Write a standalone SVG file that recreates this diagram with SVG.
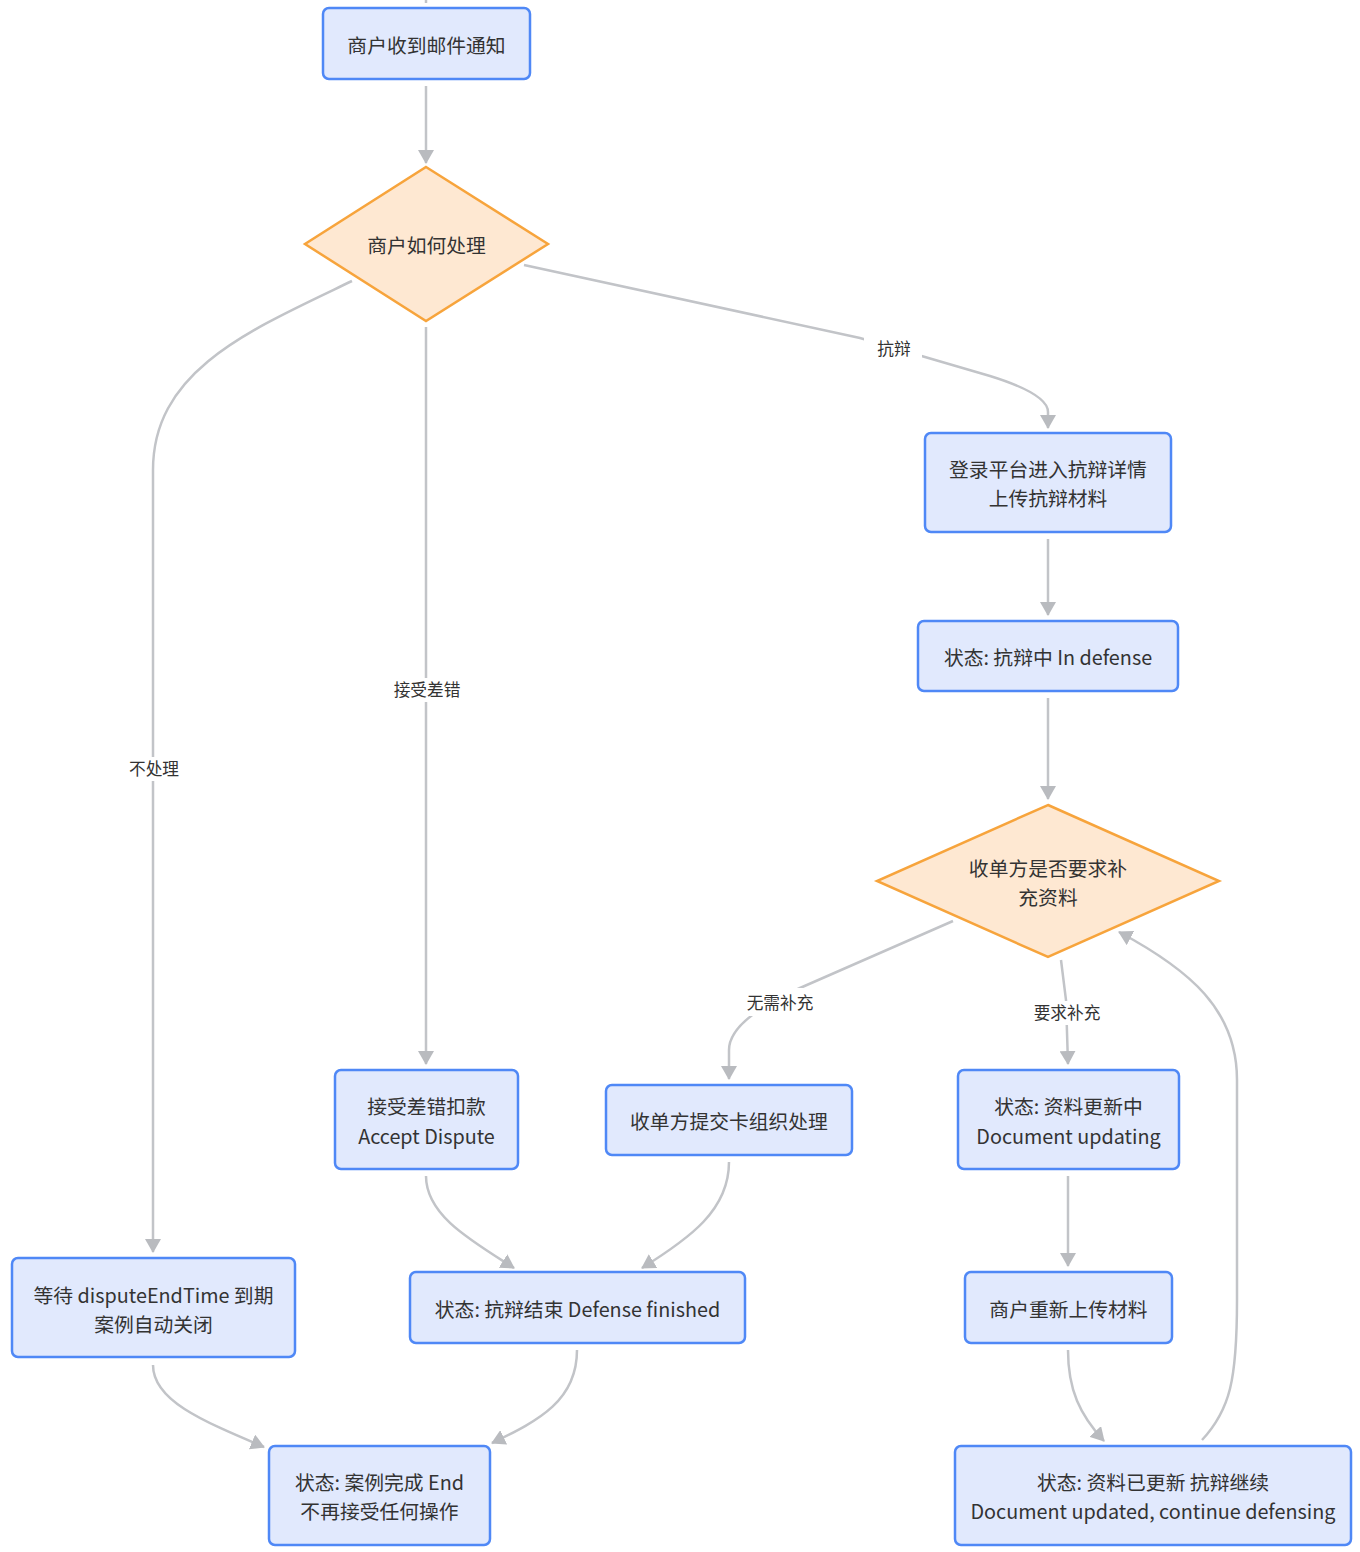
<svg xmlns="http://www.w3.org/2000/svg" width="1360" height="1552" viewBox="0 0 1360 1552">
<style>
.box{fill:#e1e9fd;stroke:#4f88f6;stroke-width:2.5}
.dia{fill:#fee8d2;stroke:#f7a43c;stroke-width:2.5}
.t{font-family:"Noto Sans CJK SC","Noto Sans",sans-serif;font-size:19.8px;fill:#333;text-anchor:middle;dominant-baseline:central}
.lb{font-family:"Noto Sans CJK SC","Noto Sans",sans-serif;font-size:16.7px;fill:#333;text-anchor:middle;dominant-baseline:central}
.e{fill:none;stroke:#c2c4c8;stroke-width:2.5}
.lbg{fill:#ffffff}
</style>
<defs>
<marker id="ah" viewBox="0 0 14 16" refX="13" refY="8" markerWidth="14" markerHeight="16" markerUnits="userSpaceOnUse" orient="auto">
<path d="M0,0 L14,8 L0,16 z" fill="#b9bbbf"/>
</marker>
</defs>
<rect width="1360" height="1552" fill="#ffffff"/>
<g id="edges">
<path class="e" d="M426,0 L426,3"/>
<path class="e" d="M426,86 L426,163" marker-end="url(#ah)"/>
<path class="e" d="M352,281 C250,330 153,370 153,470 L153,1252" marker-end="url(#ah)"/>
<path class="e" d="M426,327 L426,1064" marker-end="url(#ah)"/>
<path class="e" d="M524,265 L860,338 L990,376 Q1048,394 1048,412 L1048,428" marker-end="url(#ah)"/>
<path class="e" d="M1048,539 L1048,615" marker-end="url(#ah)"/>
<path class="e" d="M1048,698 L1048,799" marker-end="url(#ah)"/>
<path class="e" d="M953,921 L800,988 Q729,1020 729,1050 L729,1079" marker-end="url(#ah)"/>
<path class="e" d="M1061,960 L1066,1000 L1068,1064" marker-end="url(#ah)"/>
<path class="e" d="M426,1176 C426,1215 470,1240 514,1268" marker-end="url(#ah)"/>
<path class="e" d="M729,1162 C729,1210 690,1238 642,1268" marker-end="url(#ah)"/>
<path class="e" d="M153,1365 C153,1400 200,1420 264,1447" marker-end="url(#ah)"/>
<path class="e" d="M577,1350 C577,1400 540,1420 492,1443" marker-end="url(#ah)"/>
<path class="e" d="M1068,1176 L1068,1266" marker-end="url(#ah)"/>
<path class="e" d="M1068,1350 C1068,1390 1080,1415 1104,1441" marker-end="url(#ah)"/>
<path class="e" d="M1202,1440 C1230,1410 1237,1380 1237,1300 L1237,1080 C1237,1010 1190,970 1119,932" marker-end="url(#ah)"/>
<rect class="lbg" x="124" y="757" width="60" height="24"/>
<text class="lb" x="154" y="768">不处理</text>
<rect class="lbg" x="389" y="678" width="76" height="24"/>
<text class="lb" x="427" y="689">接受差错</text>
<rect class="lbg" x="864" y="337" width="58" height="24"/>
<text class="lb" x="894" y="348">抗辩</text>
<rect class="lbg" x="740" y="988" width="80" height="28"/>
<text class="lb" x="780" y="1002">无需补充</text>
<rect class="lbg" x="1029" y="1001" width="76" height="24"/>
<text class="lb" x="1067" y="1012">要求补充</text>
</g>
<g id="n1"><rect class="box" x="323" y="8" width="207" height="71" rx="6"/><text class="t" x="426.5" y="44">商户收到邮件通知</text></g>
<g id="d1"><polygon class="dia" points="426,167 548,244 426,321 305,244"/><text class="t" x="426.5" y="244">商户如何处理</text></g>
<g id="n3"><rect class="box" x="925" y="433" width="246" height="99" rx="6"/><text class="t" x="1048" y="468">登录平台进入抗辩详情</text><text class="t" x="1048" y="497">上传抗辩材料</text></g>
<g id="n4"><rect class="box" x="918" y="621" width="260" height="70" rx="6"/><text class="t" x="1048" y="656">状态: 抗辩中 In defense</text></g>
<g id="d2"><polygon class="dia" points="1048,805 1219,881 1048,957 877,881"/><text class="t" x="1048" y="867">收单方是否要求补</text><text class="t" x="1048" y="896">充资料</text></g>
<g id="n6"><rect class="box" x="335" y="1070" width="183" height="99" rx="6"/><text class="t" x="426.5" y="1105">接受差错扣款</text><text class="t" x="426.5" y="1135">Accept Dispute</text></g>
<g id="n7"><rect class="box" x="606" y="1085" width="246" height="70" rx="6"/><text class="t" x="729" y="1120">收单方提交卡组织处理</text></g>
<g id="n8"><rect class="box" x="958" y="1070" width="221" height="99" rx="6"/><text class="t" x="1068.5" y="1105">状态: 资料更新中</text><text class="t" x="1068.5" y="1135">Document updating</text></g>
<g id="n9"><rect class="box" x="12" y="1258" width="283" height="99" rx="6"/><text class="t" x="153.5" y="1294">等待 disputeEndTime 到期</text><text class="t" x="153.5" y="1323">案例自动关闭</text></g>
<g id="n10"><rect class="box" x="410" y="1272" width="335" height="71" rx="6"/><text class="t" x="577.5" y="1308">状态: 抗辩结束 Defense finished</text></g>
<g id="n11"><rect class="box" x="965" y="1272" width="207" height="71" rx="6"/><text class="t" x="1068.5" y="1308">商户重新上传材料</text></g>
<g id="n12"><rect class="box" x="269" y="1446" width="221" height="99" rx="6"/><text class="t" x="379.5" y="1481">状态: 案例完成 End</text><text class="t" x="379.5" y="1510">不再接受任何操作</text></g>
<g id="n13"><rect class="box" x="955" y="1446" width="396" height="99" rx="6"/><text class="t" x="1153" y="1481">状态: 资料已更新 抗辩继续</text><text class="t" x="1153" y="1510">Document updated, continue defensing</text></g>
</svg>
